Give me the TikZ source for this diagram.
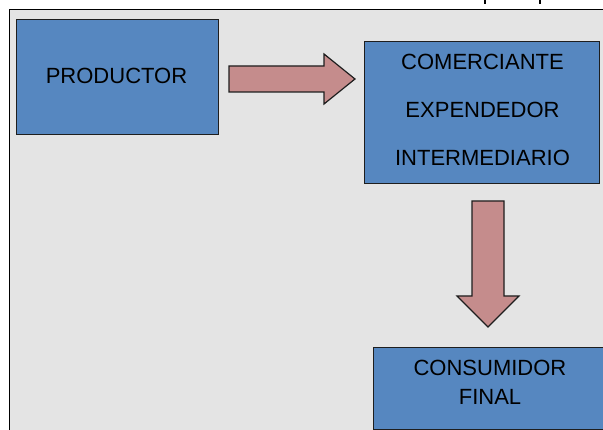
\documentclass[tikz,border=0pt]{standalone}
\usepackage{fontspec}
\setmainfont{Liberation Sans}
\definecolor{panelgray}{RGB}{228,228,228}
\definecolor{boxblue}{RGB}{86,135,192}
\definecolor{arrowpink}{RGB}{197,140,140}
\definecolor{edgedark}{RGB}{30,30,30}
\tikzset{
  boxnode/.style={draw=edgedark, line width=0.9pt, fill=boxblue, anchor=north west, inner sep=0pt},
  boxtext/.style={font=\fontsize{22}{48}\selectfont, align=center, text=black, inner sep=0pt},
  blockarrow/.style={draw=edgedark, line width=1.2pt, fill=arrowpink, line join=miter},
}
\begin{document}
\begin{tikzpicture}[x=1pt,y=-1pt]
\useasboundingbox (0,0) rectangle (603,430);
\clip (0,0) rectangle (603,430);
\fill[white] (0,0) rectangle (603,430);
% cut-off marks at top
\draw[line width=1.2pt] (485,0) -- (485,4);
\draw[line width=1.2pt] (540,0) -- (540,4);
% panel
\draw[line width=1.7pt, fill=panelgray] (9.5,9.5) rectangle (640,470);
% boxes
\node[boxnode, minimum width=202pt, minimum height=115pt] (prod) at (16,19) {};
\node[boxtext] (prodT) at (116.5,76) {PRODUCTOR};
\node[boxnode, minimum width=235pt, minimum height=142pt] (com) at (364,41) {};
\node[boxtext] (comT) at (482.5,110) {COMERCIANTE\\EXPENDEDOR\\INTERMEDIARIO};
\node[boxnode, minimum width=234pt, minimum height=82pt] (cons) at (373,347) {};
\node[boxtext, font=\fontsize{22}{29}\selectfont] (consT) at (490,382.5) {CONSUMIDOR\\FINAL};
% right block arrow
\coordinate (ra) at (229,79);
\coordinate (rb) at (355,79);
\draw[blockarrow] (229,66) -- (324,66) -- (324,54) -- (rb) -- (324,104) -- (324,92) -- (229,92) -- cycle;
% down block arrow
\coordinate (da) at (488,201);
\coordinate (db) at (488,327);
\draw[blockarrow] (472,201) -- (504,201) -- (504,296) -- (519,296) -- (db) -- (457,296) -- (472,296) -- cycle;
\end{tikzpicture}
\end{document}
